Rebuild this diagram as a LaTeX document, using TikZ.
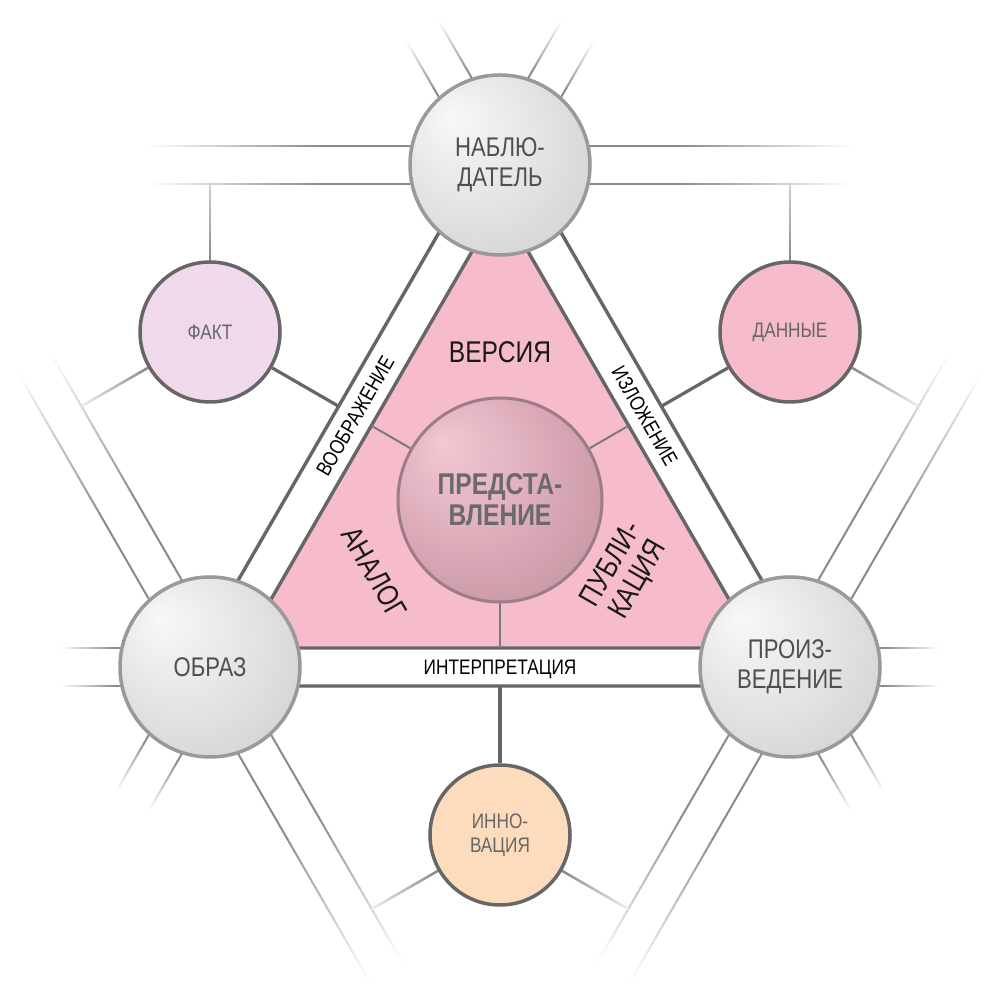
\documentclass[tikz,border=0pt]{standalone}
\usepackage{fontspec}
\setmainfont[FakeStretch=0.82]{Liberation Sans}
\usetikzlibrary{calc}
\pgfdeclarelayer{back}
\pgfdeclarelayer{bg}
\pgfsetlayers{back,bg,main}
\definecolor{dk}{HTML}{666666}
\definecolor{lg}{HTML}{8A8A8A}
\definecolor{spk}{HTML}{7A7A7A}
\definecolor{pinkF}{HTML}{F6BCCB}
\definecolor{factF}{HTML}{EFD9EA}
\definecolor{innoF}{HTML}{FCDCBC}
\definecolor{bgray}{HTML}{999999}
\definecolor{btext}{HTML}{4F4F4F}
\definecolor{stext}{HTML}{666666}
\definecolor{ctext}{HTML}{6A6A6A}
\definecolor{cbord}{HTML}{9E7C87}
\definecolor{bb0}{HTML}{F8F8F8}
\definecolor{bb1}{HTML}{E2E2E2}
\definecolor{bb2}{HTML}{C2C2C2}
\definecolor{pb0}{HTML}{F3C7D3}
\definecolor{pb1}{HTML}{D9A8B6}
\definecolor{pb2}{HTML}{B2828F}
\pgfdeclareradialshading{bigball}{\pgfpoint{-14bp}{14bp}}{color(0bp)=(bb0); color(22bp)=(bb1); color(50bp)=(bb2)}
\pgfdeclareradialshading{pinkball}{\pgfpoint{-14bp}{14bp}}{color(0bp)=(pb0); color(22bp)=(pb1); color(50bp)=(pb2)}
\tikzset{
  latt/.style={line width=2pt, line cap=butt},
  fspoke/.style={line width=2.5pt, line cap=butt},
  dkl/.style={draw=dk, line width=3.4pt},
  dkspoke/.style={draw=dk, line width=3.2pt},
  cspoke/.style={draw=spk, line width=2pt},
  bigc/.style={circle, minimum size=180pt, inner sep=0pt, draw=bgray, line width=3.5pt,
    shade, shading=bigball, text=btext, font=\fontsize{27}{30}\selectfont, align=center},
  smc/.style={circle, minimum size=140pt, inner sep=0pt, draw=dk, line width=3.5pt,
    text=stext, font=\fontsize{21}{24}\selectfont, align=center},
  cenc/.style={circle, minimum size=204pt, inner sep=0pt, draw=cbord, line width=3pt,
    shade, shading=pinkball, text=ctext, font=\bfseries\fontsize{30}{31}\selectfont, align=center},
  tril/.style={text=black!90, font=\fontsize{30}{31}\selectfont, align=center, inner sep=0pt},
  bandl/.style={text=black, font=\fontsize{21}{24}\selectfont, inner sep=0pt, text height=15pt, text depth=0pt},
}
\newcommand{\fl}[5]{%
  \foreach \k in {0,...,23}{%
    \pgfmathsetmacro{\pa}{\k/24}%
    \pgfmathsetmacro{\pb}{min(1,(\k+1.15)/24)}%
    \pgfmathsetmacro{\pc}{#3+(#4-#3)*(\k+0.5)/24}%
    \draw[#5, draw=lg!\pc!white] ($#1!\pa!#2$) -- ($#1!\pb!#2$);
  }}
\newcommand{\band}[4]{%
  \pgfmathsetmacro{\ang}{#2+90}%
  \foreach \s in {19,-19}{%
    \coordinate (bs) at ($(#1.center)+(#2:85)+(\ang:\s)$);
    \coordinate (bm) at ($(#1.center)+(#2:#3)+(\ang:\s)$);
    \coordinate (be) at ($(#1.center)+(#2:#4)+(\ang:\s)$);
    \draw[latt, draw=lg] (bs) -- (bm);
    \fl{(bm)}{(be)}{100}{0}{latt}
  }}
\begin{document}
\begin{tikzpicture}[x=1pt,y=1pt]
\useasboundingbox (0,0) rectangle (1000,1000);
\begin{pgfonlayer}{back}
\fill[white] (0,0) rectangle (1000,1000);
\end{pgfonlayer}

% main nodes
\node[bigc] (T) at (500,835) {НАБЛЮ-\\ДАТЕЛЬ};
\node[bigc] (L) at (210,333) {ОБРАЗ};
\node[bigc] (R) at (790,333) {ПРОИЗ-\\ВЕДЕНИЕ};
\node[smc, fill=factF] (F) at (210,668) {ФАКТ};
\node[smc, fill=pinkF] (D) at (790,668) {ДАННЫЕ};
\node[smc, fill=innoF] (I) at (500,165) {ИННО-\\ВАЦИЯ};
\node[cenc] (P) at (500,500) {ПРЕДСТА-\\ВЛЕНИЕ};

% triangle labels
\node[tril] (lv) at ($(P.center)+(90:148)$) {ВЕРСИЯ};
\node[tril, rotate=-60] (la) at ($(P.center)+(210:145)$) {АНАЛОГ};
\node[tril, rotate=60] (lp) at ($(P.center)+(-30:145)$) {ПУБЛИ-\\КАЦИЯ};

% band labels
\node[bandl, rotate=60] (lb1) at ($(L.center)!0.5!(T.center)$) {ВООБРАЖЕНИЕ};
\node[bandl, rotate=-60] (lb2) at ($(T.center)!0.5!(R.center)$) {ИЗЛОЖЕНИЕ};
\node[bandl] (lb3) at ($(L.center)!0.5!(R.center)$) {ИНТЕРПРЕТАЦИЯ};

\begin{pgfonlayer}{bg}
% lattice bands
\band{T}{180}{180}{352}
\band{T}{0}{180}{352}
\band{T}{60}{95}{155}
\band{T}{120}{95}{155}
\band{L}{120}{180}{352}
\band{L}{300}{180}{352}
\band{L}{180}{95}{150}
\band{L}{240}{95}{155}
\band{R}{60}{180}{352}
\band{R}{240}{180}{352}
\band{R}{0}{95}{150}
\band{R}{300}{95}{155}

% triangle geometry
\coordinate (C) at ($(T.center)!0.6666667!($(L.center)!0.5!(R.center)$)$);
\coordinate (Tin) at ($(C)!0.88646!(T.center)$);
\coordinate (Lin) at ($(C)!0.88646!(L.center)$);
\coordinate (Rin) at ($(C)!0.88646!(R.center)$);
\coordinate (Tout) at ($(C)!1.11355!(T.center)$);
\coordinate (Lout) at ($(C)!1.11355!(L.center)$);
\coordinate (Rout) at ($(C)!1.11355!(R.center)$);
\fill[pinkF] (Tin) -- (Lin) -- (Rin) -- cycle;
\draw[dkl] (Tin) -- (Lin) -- (Rin) -- cycle;
\draw[dkl] (Tout) -- (Lout) -- (Rout) -- cycle;

% center spokes
\draw[cspoke] (P.30) -- ($(P.center)+(30:148.4)$);
\draw[cspoke] (P.150) -- ($(P.center)+(150:148.4)$);
\draw[cspoke] (P.270) -- ($(P.center)+(270:148.4)$);

% small circle spokes
\coordinate (f1) at ($(F.center)+(90:148.4)$);
\coordinate (f2) at ($(F.center)+(210:148.4)$);
\coordinate (d1) at ($(D.center)+(90:148.4)$);
\coordinate (d2) at ($(D.center)+(-30:148.4)$);
\coordinate (i2) at ($(I.center)+(210:148.4)$);
\coordinate (i3) at ($(I.center)+(-30:148.4)$);
\draw[dkspoke] (F.-30) -- ($(F.center)+(-30:148.4)$);
\draw[dkspoke] (D.210) -- ($(D.center)+(210:148.4)$);
\draw[dkspoke] (I.90) -- ($(I.center)+(90:148.4)$);
\fl{(F.90)}{(f1)}{100}{40}{fspoke}
\fl{(F.210)}{(f2)}{100}{15}{fspoke}
\fl{(D.90)}{(d1)}{100}{40}{fspoke}
\fl{(D.-30)}{(d2)}{100}{15}{fspoke}
\fl{(I.210)}{(i2)}{100}{15}{fspoke}
\fl{(I.-30)}{(i3)}{100}{15}{fspoke}
\end{pgfonlayer}
\end{tikzpicture}
\end{document}
